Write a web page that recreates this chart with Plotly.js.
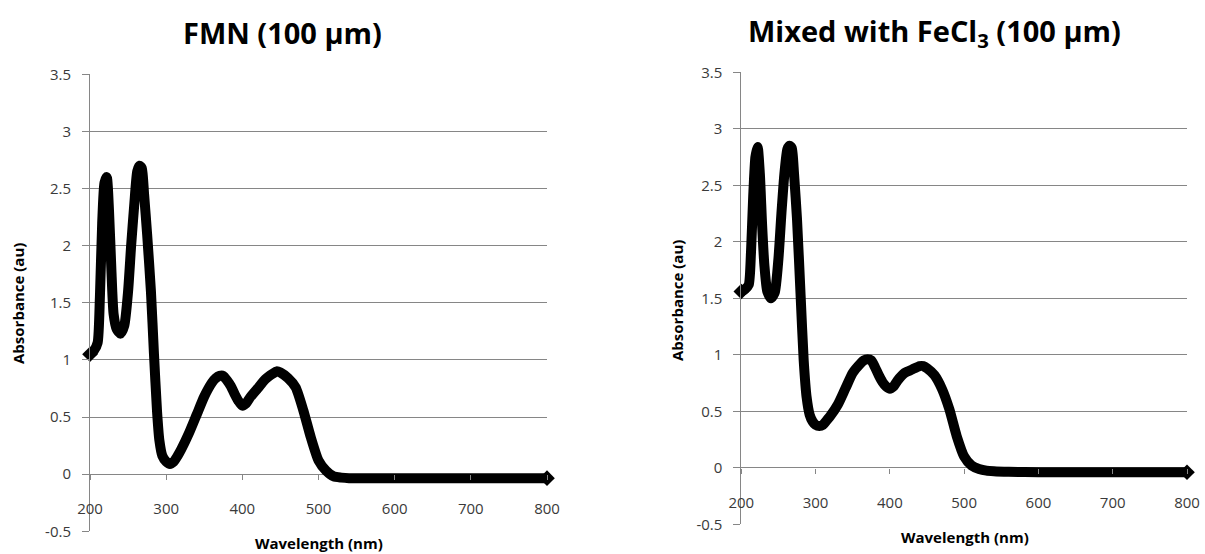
<!DOCTYPE html>
<html>
<head>
<meta charset="utf-8">
<script src="https://cdn.plot.ly/plotly-3.0.1.min.js"></script>
<style>html,body{margin:0;padding:0;background:#fff;}#chart{width:1205px;height:554px;}</style>
</head>
<body>
<div id="chart"></div>
<script>
// Data
const fmnWavelength = [200,205,210,213,216,219,222,225,228,231,235,240,245,250,254,258,262,265,268,271,275,280,284,288,291,295,300,305,310,315,320,330,340,350,360,365,370,375,380,385,390,395,400,405,410,420,430,440,445,450,460,470,480,490,500,510,520,530,540,560,600,650,700,750,800];
const fmnAbsorbance = [1.05,1.08,1.15,1.55,2.2,2.55,2.6,2.3,1.8,1.4,1.27,1.23,1.3,1.6,2.0,2.35,2.65,2.7,2.68,2.45,2.1,1.6,1.05,0.55,0.3,0.16,0.11,0.09,0.11,0.16,0.22,0.36,0.52,0.68,0.8,0.84,0.86,0.86,0.82,0.77,0.7,0.64,0.6,0.62,0.67,0.75,0.83,0.88,0.9,0.89,0.84,0.76,0.56,0.32,0.12,0.03,-0.02,-0.03,-0.035,-0.035,-0.035,-0.035,-0.035,-0.035,-0.035];

const feWavelength = [200,205,210,213,216,219,222,225,228,231,235,240,245,250,254,258,262,265,268,271,275,280,284,288,292,296,300,305,310,315,320,330,340,350,360,365,370,375,380,385,390,395,400,405,410,420,430,440,445,450,460,470,480,490,500,510,520,530,540,560,600,700,800];
const feAbsorbance = [1.56,1.58,1.62,1.9,2.4,2.75,2.84,2.6,2.15,1.8,1.56,1.5,1.55,1.85,2.25,2.6,2.82,2.85,2.83,2.6,2.2,1.5,0.95,0.62,0.47,0.41,0.38,0.37,0.38,0.42,0.46,0.56,0.7,0.84,0.92,0.95,0.96,0.95,0.89,0.82,0.76,0.72,0.7,0.72,0.77,0.84,0.87,0.9,0.9,0.88,0.82,0.7,0.52,0.28,0.1,0.02,-0.01,-0.025,-0.03,-0.035,-0.04,-0.04,-0.04];

const yTickVals = [-0.5,0,0.5,1,1.5,2,2.5,3,3.5];
const yTickText = ["-0.5","0","0.5","1","1.5","2","2.5","3","3.5"];
const xTickVals = [200,300,400,500,600,700,800];
const xTickText = ["200","300","400","500","600","700","800"];

const titles = ["FMN (100 μm)", "Mixed with FeCl<sub>3</sub> (100 μm)"];
const xTitle = "Wavelength (nm)";
const yTitle = "Absorbance (au)";

const W = 1205, H = 554;
const FONT = "'Open Sans', 'Noto Sans', sans-serif";
const GRID = "#868686";
const TICKC = "#3a3a3a";
const yRange = [-0.5, 3.5];

function dom(a, b, total) { return [a/total, b/total]; }
const left = { x: dom(90, 547, W), y: [(H-531.3)/H, (H-74.3)/H] };
const right = { x: dom(741.3, 1187, W), y: [(H-524.3)/H, (H-72.3)/H] };
function zeroPos(d) { return d[0] + (0 - yRange[0])/(yRange[1]-yRange[0]) * (d[1]-d[0]); }

function trace(x, y, xa, ya) {
  const n = x.length;
  return { x: x, y: y, xaxis: xa, yaxis: ya, type: 'scatter', mode: 'lines+markers', cliponaxis: false,
    line: { color: '#000', width: 10, shape: 'spline', smoothing: 0.6 },
    marker: { symbol: 'diamond', size: x.map((v, i) => (i === 0 || i === n - 1) ? 12 : 0), color: '#000', opacity: 1, line: { width: 0 } },
    hoverinfo: 'skip', showlegend: false };
}

function xaxis(d) {
  return { domain: d.x, range: [200, 800], anchor: 'free', position: zeroPos(d.y),
    showgrid: false, zeroline: false, showline: false,
    tickmode: 'array', tickvals: xTickVals, ticktext: xTickText,
    ticks: 'outside', ticklen: 5, tickcolor: GRID, tickwidth: 1,
    ticklabelstandoff: 16,
    tickfont: { family: FONT, size: 15, color: TICKC } };
}
function yaxis(d, anchorX) {
  return { domain: d.y, range: yRange, anchor: anchorX,
    showgrid: true, gridcolor: GRID, gridwidth: 1, zeroline: false,
    showline: true, linecolor: GRID, linewidth: 1,
    tickmode: 'array', tickvals: yTickVals, ticktext: yTickText,
    ticks: 'outside', ticklen: 7, tickcolor: GRID, tickwidth: 1,
    ticklabelstandoff: 8,
    tickfont: { family: FONT, size: 15, color: TICKC } };
}

function label(text, px, py, size, angle) {
  return { text: text, xref: 'paper', yref: 'paper', x: px/W, y: (H-py)/H,
    xanchor: 'center', yanchor: 'middle', showarrow: false, textangle: angle || 0,
    font: { family: FONT, size: size, color: '#000', weight: 'bold' } };
}

const layout = {
  width: W, height: H, margin: { l: 0, r: 0, t: 0, b: 0 },
  paper_bgcolor: '#fff', plot_bgcolor: '#fff', showlegend: false,
  xaxis: xaxis(left), yaxis: yaxis(left, 'x'),
  xaxis2: xaxis(right), yaxis2: yaxis(right, 'x2'),
  annotations: [
    label(titles[0], 282, 33, 29),
    label(titles[1], 934, 33, 29),
    label(xTitle, 319, 543, 15),
    label(xTitle, 965, 537, 15),
    label(yTitle, 18, 304, 15, -90),
    label(yTitle, 677, 301, 15, -90)
  ]
};

Plotly.newPlot('chart', [
  trace(fmnWavelength, fmnAbsorbance, 'x', 'y'),
  trace(feWavelength, feAbsorbance, 'x2', 'y2')
], layout, { staticPlot: true, displayModeBar: false });
</script>
</body>
</html>
